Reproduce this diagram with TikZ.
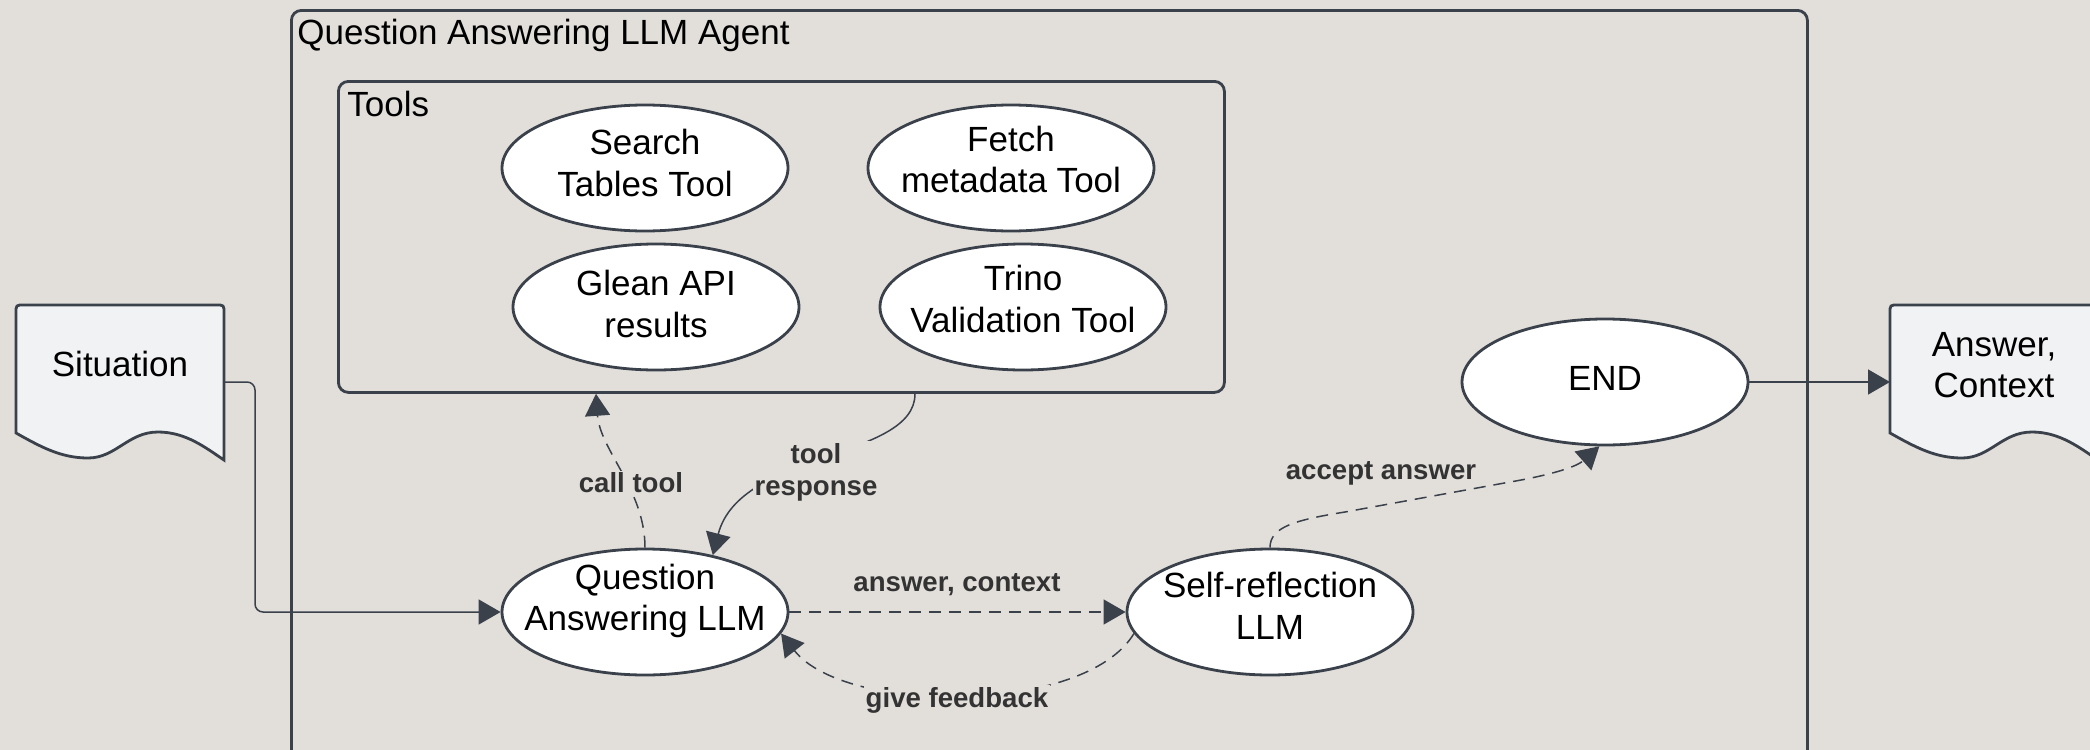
\documentclass[tikz,border=0pt]{standalone}
\usepackage{fontspec}
\setmainfont{Liberation Sans}
\usetikzlibrary{arrows.meta,shapes.geometric,calc}
\definecolor{bg}{RGB}{226,223,219}
\definecolor{ln}{RGB}{58,65,75}
\definecolor{docfill}{RGB}{241,242,244}
\definecolor{lbl}{RGB}{51,51,51}
\newcommand\mydocshape[1]{%
\draw[docst] (#1,433) -- (#1,313) .. controls (#1,305) .. (#1+8,305) -- (#1+200,305) .. controls (#1+208,305) .. (#1+208,313) -- (#1+208,460) .. controls (#1+190,448) and (#1+170,432) .. (#1+142,432) .. controls (#1+112,432) and (#1+100,458) .. (#1+72,458) .. controls (#1+45,458) and (#1+25,447) .. (#1,433) -- cycle;}
\newcommand\ovt[2]{\makebox[0pt]{\raisebox{#1}[0pt][0pt]{\begin{tabular}{@{}c@{}}#2\end{tabular}}}}
\begin{document}
\begin{tikzpicture}[x=0.5pt,y=-0.5pt,
 oval/.style={ellipse,draw=ln,line width=1.4pt,fill=white,minimum width=143pt,minimum height=63pt,inner sep=0pt,font=\fontsize{17.5}{20.7}\selectfont},
 boxst/.style={draw=ln,line width=1.4pt,rounded corners=5pt,inner sep=0pt},
 docst/.style={draw=ln,line width=1.4pt,fill=docfill},
 conn/.style={draw=ln,line width=0.75pt,-{Triangle[length=11pt,width=12.5pt]}},
 dashconn/.style={conn,dash pattern=on 6pt off 4pt},
 lab/.style={font=\fontsize{13.8}{16}\selectfont\bfseries,text=lbl,align=center,inner sep=1pt},
 labbg/.style={lab,fill=bg},
 doctext/.style={font=\fontsize{17.5}{20.7}\selectfont,align=center},
 titlest/.style={font=\fontsize{17.5}{20.7}\selectfont,anchor=west,inner sep=0pt}
]
\fill[bg] (0,0) rectangle (2090,750);
\useasboundingbox (0,0) rectangle (2090,750);
\clip (0,0) rectangle (2090,750);

% containers
\node[boxst, minimum width=758pt, minimum height=380pt, anchor=north west] (agent) at (290,9) {};
\node[titlest] (agentlbl) at (297,35) {Question Answering LLM Agent};
\node[boxst, minimum width=443pt, minimum height=155.5pt, anchor=north west] (tools) at (337,80) {};
\node[titlest] (toolslbl) at (347,104) {Tools};

% ellipses
\node[oval] (search) at (645,168) {\ovt{-4pt}{Search\\Tables Tool}};
\node[oval] (fetch) at (1011,168) {\ovt{-2.2pt}{Fetch\\metadata Tool}};
\node[oval] (glean) at (656,307) {\ovt{-4.9pt}{Glean API\\results}};
\node[oval] (trino) at (1023,307) {\ovt{-2.5pt}{Trino\\Validation Tool}};
\node[oval] (endn) at (1605,382) {\ovt{-4.5pt}{END}};
\node[oval] (qa) at (645,612) {\ovt{0.7pt}{Question\\Answering LLM}};
\node[oval] (sr) at (1270,612) {\ovt{-3.5pt}{Self-reflection\\LLM}};

% documents
\mydocshape{16}
\node[doctext] (sit) at (120,364) {Situation};
\mydocshape{1890}
\node[doctext] (ans) at (1994,365) {Answer,\\Context};
\coordinate (sitR) at (224,382);
\coordinate (ansL) at (1890,382);

% connectors
\draw[conn, rounded corners=4pt] (sitR) -- (255,382) -- (255,612) -- (qa.west);
\draw[conn] (endn.east) -- (ansL);

\draw[dashconn] (qa.north) .. controls (645,490) and (600,450) .. (596,0 |- tools.south);
\node[labbg] (calltool) at (631,483) {call tool};

\draw[conn] (915,0 |- tools.south) .. controls (915,460) and (740,450) .. (qa.40);
\node[labbg] (toolresp) at (816,472) {tool\\response};

\draw[dashconn] (qa.east) -- (sr.west);
\node[lab] (anscon) at (957,585) {answer, context};

\draw[dashconn] (sr.189) .. controls (1085,715) and (845,715) .. (qa.-9);
\node[labbg] (feedback) at (957,700) {give feedback};

\draw[dashconn] (sr.north) .. controls (1270,527) and (1295,520) .. (1345,512) -- (1510,482) .. controls (1545,476) and (1575,468) .. (endn.-95);
\node[lab] (accept) at (1381,473) {accept answer};
\end{tikzpicture}
\end{document}
